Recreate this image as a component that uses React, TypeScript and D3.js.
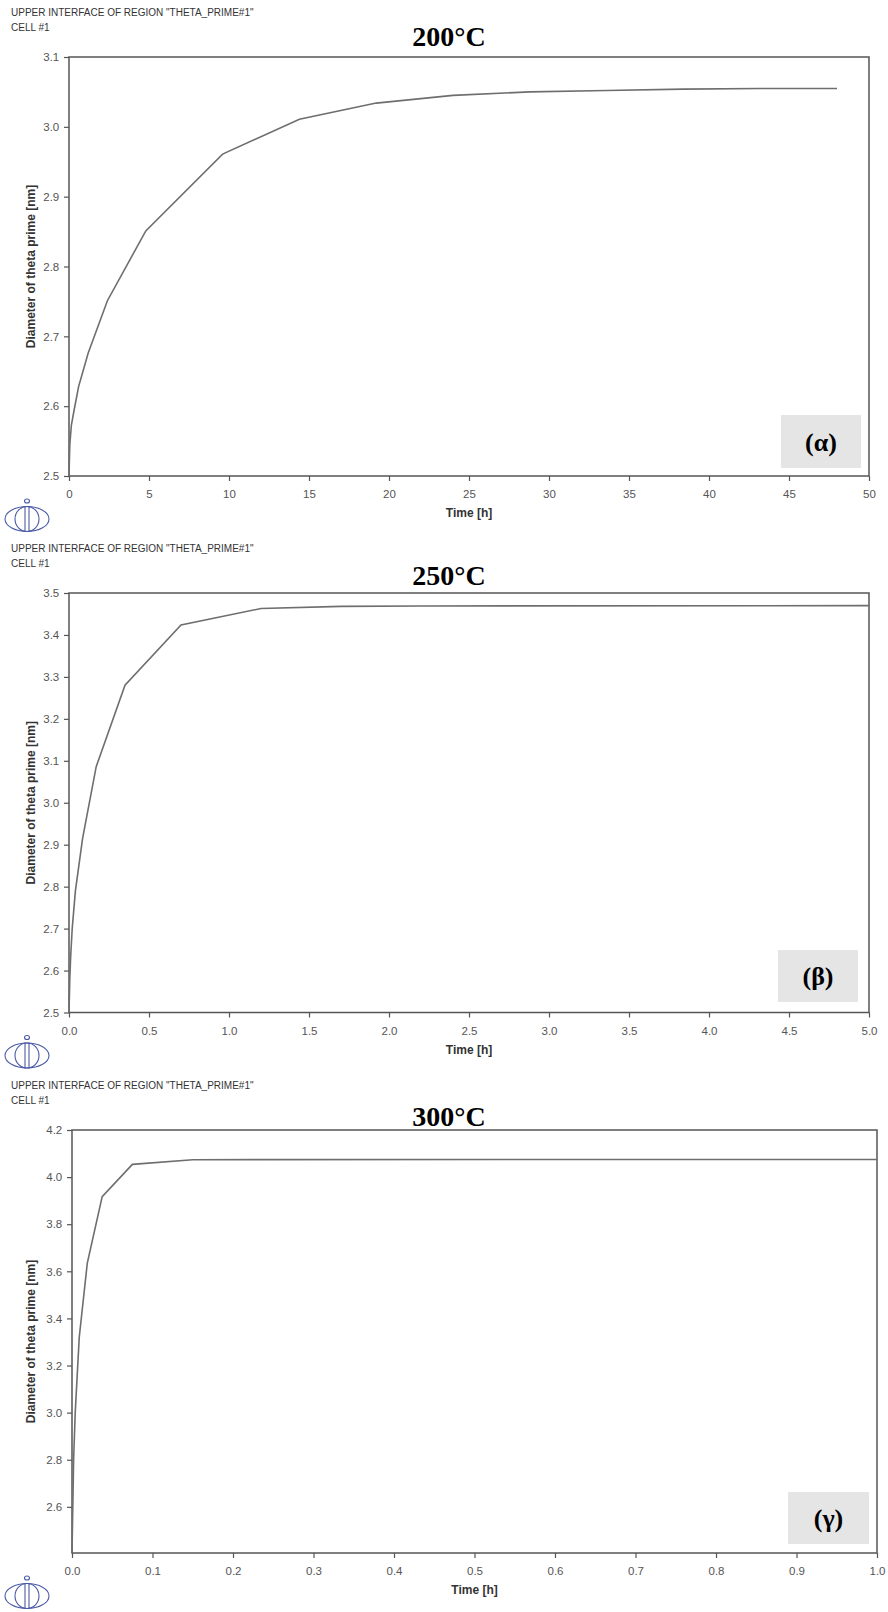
import React, {useRef, useEffect} from 'react';
import * as d3 from 'd3';

// values (time in h, diameter in nm)
const time200 = [0, 0.05, 0.15, 0.3, 0.6, 1.2, 2.4, 4.8, 9.6, 14.4, 19.2, 24, 28.8, 33.6, 38.4, 43.2, 48];
const diam200 = [2.5, 2.545, 2.573, 2.592, 2.628, 2.676, 2.751, 2.851, 2.961, 3.011, 3.034, 3.045, 3.05, 3.052, 3.054, 3.055, 3.055];

const time250 = [0, 0.005, 0.01, 0.02, 0.04, 0.085, 0.17, 0.35, 0.7, 1.2, 1.7, 2.2, 5.0];
const diam250 = [2.5, 2.58, 2.63, 2.7, 2.79, 2.915, 3.086, 3.28, 3.424, 3.463, 3.468, 3.469, 3.47];

const time300 = [0, 0.002, 0.004, 0.009, 0.019, 0.0375, 0.075, 0.15, 1.0];
const diam300 = [2.404, 2.8, 3.0, 3.32, 3.635, 3.917, 4.054, 4.074, 4.075];

const xTicks200 = [0, 5, 10, 15, 20, 25, 30, 35, 40, 45, 50];
const yTicks200 = [2.5, 2.6, 2.7, 2.8, 2.9, 3.0, 3.1];
const xTicks250 = [0, 0.5, 1.0, 1.5, 2.0, 2.5, 3.0, 3.5, 4.0, 4.5, 5.0];
const yTicks250 = [2.5, 2.6, 2.7, 2.8, 2.9, 3.0, 3.1, 3.2, 3.3, 3.4, 3.5];
const xTicks300 = [0, 0.1, 0.2, 0.3, 0.4, 0.5, 0.6, 0.7, 0.8, 0.9, 1.0];
const yTicks300 = [2.6, 2.8, 3.0, 3.2, 3.4, 3.6, 3.8, 4.0, 4.2];

const titles = ['200°C', '250°C', '300°C'];
const tags = ['(α)', '(β)', '(γ)'];

const panels = [
    {t: time200, d: diam200, xT: xTicks200, yT: yTicks200, xDom: [0, 50], yDom: [2.5, 3.1], xFmt: d3.format('d'),
        left: 69, right: 869, top: 57, bottom: 476, titleY: 46, box: [781, 415, 80, 53]},
    {t: time250, d: diam250, xT: xTicks250, yT: yTicks250, xDom: [0, 5], yDom: [2.5, 3.5], xFmt: d3.format('.1f'),
        left: 69, right: 869, top: 593, bottom: 1012.5, titleY: 585, box: [778, 950, 80, 52]},
    {t: time300, d: diam300, xT: xTicks300, yT: yTicks300, xDom: [0, 1], yDom: [2.404, 4.2], xFmt: d3.format('.1f'),
        left: 72, right: 877, top: 1130, bottom: 1553, titleY: 1126, box: [788, 1492, 81, 52]}
];

const W = 888, H = 1612;

const App = () => {
    const svgRef = useRef<SVGSVGElement>(null);

    useEffect(() => {
        const svg = d3.select(svgRef.current);
        svg.selectAll('*').remove();

        const sans = 'Liberation Sans, Arial, sans-serif';
        const serif = 'Liberation Serif, Times New Roman, serif';

        panels.forEach((p, i) => {
            const g = svg.append('g');

            var x = d3.scaleLinear().domain(p.xDom).range([p.left, p.right]);
            var y = d3.scaleLinear().domain(p.yDom).range([p.bottom, p.top]);

            // header lines
            g.append('text').attr('x', 11).attr('y', p.top - 41)
                .attr('font-family', sans).attr('font-size', 10).attr('fill', '#333')
                .text('UPPER INTERFACE OF REGION "THETA_PRIME#1"');
            g.append('text').attr('x', 11).attr('y', p.top - 26)
                .attr('font-family', sans).attr('font-size', 10).attr('fill', '#333')
                .text('CELL #1');

            // temperature title
            g.append('text').attr('x', 449).attr('y', p.titleY)
                .attr('text-anchor', 'middle').attr('font-family', serif)
                .attr('font-weight', 'bold').attr('font-size', 28).attr('fill', '#000')
                .text(titles[i]);

            // axes
            const xAxis = d3.axisBottom(x).tickValues(p.xT).tickFormat(p.xFmt as any).tickSize(5).tickSizeOuter(0);
            const yAxis = d3.axisLeft(y).tickValues(p.yT).tickFormat(d3.format('.1f') as any).tickSize(5).tickSizeOuter(0);

            const gx = g.append('g').attr('transform', `translate(0,${p.bottom})`).call(xAxis);
            const gy = g.append('g').attr('transform', `translate(${p.left},0)`).call(yAxis);
            [gx, gy].forEach(a => {
                a.select('.domain').remove();
                a.selectAll('line').attr('stroke', '#555').attr('stroke-width', 1.2);
                a.selectAll('text').attr('font-family', sans).attr('font-size', 11.5).attr('fill', '#555');
            });
            gx.selectAll('text').attr('dy', '1.25em');
            gy.selectAll('text').attr('dx', '-0.15em');

            // frame
            g.append('rect').attr('x', p.left).attr('y', p.top)
                .attr('width', p.right - p.left).attr('height', p.bottom - p.top)
                .attr('fill', 'none').attr('stroke', '#555').attr('stroke-width', 1.5);

            // axis titles
            g.append('text').attr('x', (p.left + p.right) / 2).attr('y', p.bottom + 41)
                .attr('text-anchor', 'middle').attr('font-family', sans)
                .attr('font-weight', 'bold').attr('font-size', 12).attr('fill', '#333')
                .text('Time [h]');
            g.append('text')
                .attr('transform', `translate(35,${(p.top + p.bottom) / 2}) rotate(-90)`)
                .attr('text-anchor', 'middle').attr('font-family', sans)
                .attr('font-weight', 'bold').attr('font-size', 12).attr('fill', '#333')
                .text('Diameter of theta prime [nm]');

            // curve
            const pts = p.t.map((t, k) => [t, p.d[k]] as [number, number]);
            const line = d3.line<[number, number]>().x(d => x(d[0])).y(d => y(d[1]));
            g.append('path').datum(pts).attr('d', line)
                .attr('fill', 'none').attr('stroke', '#6e6e6e').attr('stroke-width', 1.6);

            // panel tag box
            const [bx, by, bw, bh] = p.box;
            g.append('rect').attr('x', bx).attr('y', by).attr('width', bw).attr('height', bh).attr('fill', '#e5e5e5');
            g.append('text').attr('x', bx + bw / 2).attr('y', by + bh / 2 + 9)
                .attr('text-anchor', 'middle').attr('font-family', serif)
                .attr('font-weight', 'bold').attr('font-size', 26).attr('fill', '#000')
                .text(tags[i]);

            // logo
            const lg = g.append('g').attr('transform', `translate(27,${p.bottom + 43})`)
                .attr('fill', 'none').attr('stroke', '#4b5aa8').attr('stroke-width', 1.1);
            lg.append('ellipse').attr('rx', 22).attr('ry', 12.5);
            lg.append('ellipse').attr('rx', 12).attr('ry', 12.5);
            lg.append('line').attr('x1', -2).attr('x2', -2).attr('y1', -13).attr('y2', 13);
            lg.append('line').attr('x1', 2).attr('x2', 2).attr('y1', -13).attr('y2', 13);
            lg.append('ellipse').attr('cx', 0).attr('cy', -18).attr('rx', 2.5).attr('ry', 2);
        });
    }, []);

    return <svg ref={svgRef} width={W} height={H}
                style={{position: 'absolute', left: 0, top: 0, background: '#fff', display: 'block'}}/>;
};

export default App;
